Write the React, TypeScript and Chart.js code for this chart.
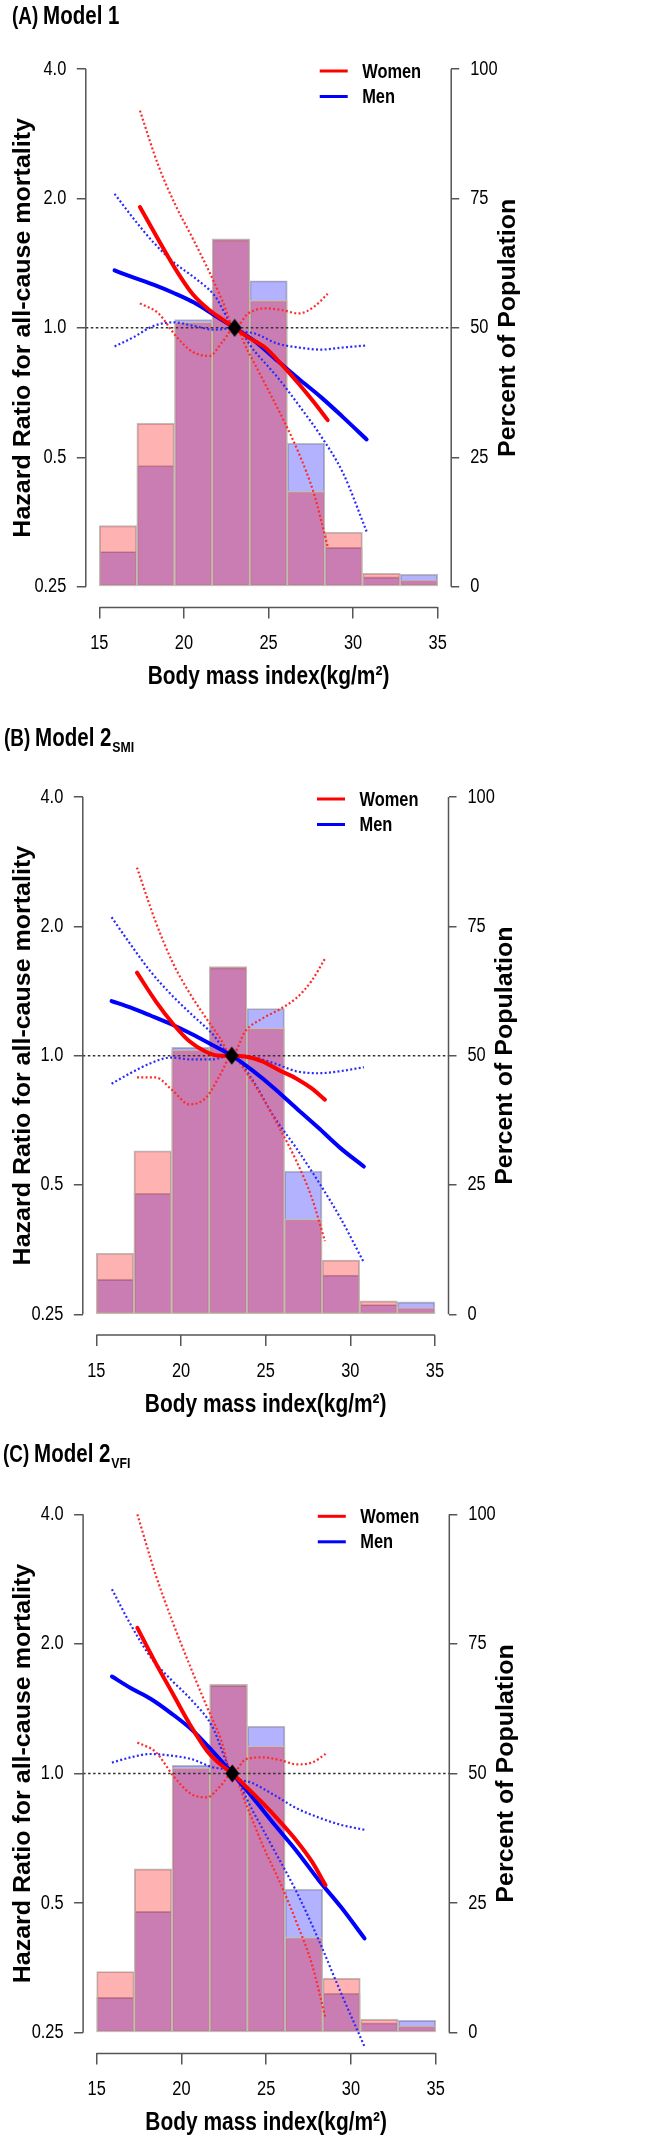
import React, { useEffect, useRef } from 'react';
import { Chart, registerables } from 'chart.js';

Chart.register(...registerables);

const FONT = "'Liberation Sans', Arial, sans-serif";
const SQUEEZE = 0.82;
const SQUEEZE_VERTICAL = 0.92;

// Histogram (percent of population per BMI bin, 9 bins from 15 to 35)
const binCenters = [16.11, 18.33, 20.56, 22.78, 25.0, 27.22, 29.44, 31.67, 33.89];
const menPercent = [6.8, 23.4, 51.6, 67.0, 59.1, 27.7, 7.6, 1.9, 2.4];
const womenPercent = [11.8, 31.6, 51.1, 67.2, 55.3, 18.4, 10.5, 2.6, 1.3];

// Axis ticks
const bmiTicks = [15, 20, 25, 30, 35];
const hrTicks = [0.25, 0.5, 1, 2, 4];
const hrTickLabels = ['0.25', '0.5', '1.0', '2.0', '4.0'];
const pctTicks = [0, 25, 50, 75, 100];
const X_MIN = 14.2;
const X_MAX = 35.8;
const HR_MIN = 0.22375;
const HR_MAX = 4.469;
const PCT_MIN = -4;
const PCT_MAX = 104;
const REF_HR = 1.0;
const REF_BMI = 23.0;

// Spline x grids
const womenBMI = [17.4, 18.5, 19.5, 20.5, 21.5, 22.3, 23.0, 23.8, 24.8, 25.8, 26.8, 27.7, 28.5];
const menBMI = [15.9, 17.0, 18.2, 19.4, 20.6, 21.8, 23.0, 24.2, 25.5, 26.8, 28.1, 29.4, 30.8];

// Panel A: Model 1
const aWomenHR = [1.91, 1.60, 1.37, 1.20, 1.10, 1.045, 1.0, 0.95, 0.90, 0.82, 0.74, 0.67, 0.61];
const aWomenLo = [1.14, 1.08, 0.96, 0.88, 0.86, 0.93, 1.0, 0.88, 0.74, 0.62, 0.51, 0.41, 0.31];
const aWomenHi = [3.2, 2.38, 1.93, 1.62, 1.35, 1.15, 1.0, 1.08, 1.11, 1.10, 1.08, 1.12, 1.2];
const aMenHR = [1.36, 1.31, 1.26, 1.205, 1.145, 1.07, 1.0, 0.93, 0.84, 0.76, 0.69, 0.62, 0.55];
const aMenLo = [0.905, 0.95, 1.01, 1.03, 1.01, 0.99, 1.0, 0.88, 0.77, 0.66, 0.56, 0.46, 0.336];
const aMenHi = [2.05, 1.80, 1.58, 1.42, 1.31, 1.19, 1.0, 0.97, 0.92, 0.90, 0.89, 0.90, 0.91];

// Panel B: Model 2 SMI
const bWomenHR = [1.56, 1.34, 1.19, 1.08, 1.02, 1.0, 1.0, 0.995, 0.97, 0.925, 0.885, 0.84, 0.79];
const bWomenLo = [0.89, 0.89, 0.83, 0.77, 0.80, 0.90, 1.0, 0.92, 0.80, 0.68, 0.57, 0.47, 0.37];
const bWomenHi = [2.74, 2.05, 1.65, 1.40, 1.22, 1.10, 1.0, 1.14, 1.22, 1.28, 1.36, 1.49, 1.68];
const bMenHR = [1.34, 1.295, 1.24, 1.185, 1.125, 1.062, 1.0, 0.925, 0.84, 0.755, 0.68, 0.61, 0.552];
const bMenLo = [0.86, 0.91, 0.96, 0.99, 0.98, 0.98, 1.0, 0.88, 0.72, 0.61, 0.51, 0.42, 0.33];
const bMenHi = [2.10, 1.82, 1.57, 1.39, 1.25, 1.13, 1.0, 0.99, 0.96, 0.92, 0.91, 0.92, 0.94];

// Panel C: Model 2 VFI
const cWomenHR = [2.18, 1.80, 1.53, 1.30, 1.13, 1.05, 1.0, 0.933, 0.853, 0.774, 0.697, 0.624, 0.55];
const cWomenLo = [1.18, 1.12, 0.99, 0.90, 0.88, 0.935, 1.0, 0.85, 0.68, 0.56, 0.45, 0.36, 0.27];
const cWomenHi = [4.0, 2.88, 2.24, 1.78, 1.43, 1.21, 1.0, 1.08, 1.09, 1.075, 1.05, 1.06, 1.11];
const cMenHR = [1.68, 1.58, 1.49, 1.38, 1.265, 1.13, 1.0, 0.88, 0.76, 0.66, 0.565, 0.49, 0.414];
const cMenLo = [1.06, 1.09, 1.11, 1.10, 1.08, 1.035, 1.0, 0.82, 0.66, 0.53, 0.41, 0.31, 0.232];
const cMenHi = [2.68, 2.22, 1.86, 1.65, 1.48, 1.29, 1.0, 0.95, 0.89, 0.83, 0.79, 0.76, 0.74];

type Series = { wHR: number[]; wLo: number[]; wHi: number[]; mHR: number[]; mLo: number[]; mHi: number[] };
type PanelCfg = {
  key: string;
  top: number;
  height: number;
  area: { top: number; bottom: number; left: number; right: number };
  xTitleY: number;
  series: Series;
  titleLeft: number;
  titleTop: number;
  letter: string;
  model: string;
  sub: string;
};

const panels: PanelCfg[] = [
  {
    key: 'A', top: 0, height: 710,
    area: { top: 48.3, bottom: 607.4, left: 85.8, right: 451.2 },
    xTitleY: 677,
    series: { wHR: aWomenHR, wLo: aWomenLo, wHi: aWomenHi, mHR: aMenHR, mLo: aMenLo, mHi: aMenHi },
    titleLeft: 12, titleTop: 0, letter: '(A)', model: 'Model 1', sub: '',
  },
  {
    key: 'B', top: 710, height: 720,
    area: { top: 66.3, bottom: 625, left: 82.8, right: 448.5 },
    xTitleY: 695,
    series: { wHR: bWomenHR, wLo: bWomenLo, wHi: bWomenHi, mHR: bMenHR, mLo: bMenLo, mHi: bMenHi },
    titleLeft: 3.5, titleTop: 722, letter: '(B)', model: 'Model 2', sub: 'SMI',
  },
  {
    key: 'C', top: 1430, height: 712,
    area: { top: 63.6, bottom: 623.4, left: 83.1, right: 449.3 },
    xTitleY: 693,
    series: { wHR: cWomenHR, wLo: cWomenLo, wHi: cWomenHi, mHR: cMenHR, mLo: cMenLo, mHi: cMenHi },
    titleLeft: 2.5, titleTop: 1438, letter: '(C)', model: 'Model 2', sub: 'VFI',
  },
];

const pts = (xs: number[], ys: number[]) => xs.map((x, i) => ({ x, y: ys[i] }));

const AXIS_COLOR = '#555';

function drawText(
  ctx: CanvasRenderingContext2D, text: string, x: number, y: number, font: string,
  align: CanvasTextAlign, rotate = false,
) {
  ctx.save();
  ctx.translate(x, y);
  ctx.scale(rotate ? SQUEEZE_VERTICAL : SQUEEZE, 1);
  if (rotate) ctx.rotate(-Math.PI / 2);
  ctx.font = font;
  ctx.textAlign = align;
  ctx.textBaseline = 'middle';
  ctx.fillStyle = '#000';
  ctx.fillText(text, 0, 0);
  ctx.restore();
}

function makeOverlay(cfg: PanelCfg) {
  return {
    id: 'overlay',
    afterDraw(chart: any) {
      const { ctx, chartArea, scales } = chart;
      const x = scales.x, y = scales.y, y1 = scales.y1;
      ctx.save();
      ctx.strokeStyle = AXIS_COLOR;
      ctx.lineWidth = 1.5;
      ctx.beginPath();
      ctx.moveTo(chartArea.left, y.getPixelForValue(hrTicks[hrTicks.length - 1]));
      ctx.lineTo(chartArea.left, y.getPixelForValue(hrTicks[0]));
      ctx.moveTo(chartArea.right, y1.getPixelForValue(pctTicks[pctTicks.length - 1]));
      ctx.lineTo(chartArea.right, y1.getPixelForValue(pctTicks[0]));
      ctx.moveTo(x.getPixelForValue(bmiTicks[0]), chartArea.bottom);
      ctx.lineTo(x.getPixelForValue(bmiTicks[bmiTicks.length - 1]), chartArea.bottom);
      ctx.stroke();
      ctx.restore();

      const tickFont = `20px ${FONT}`;
      x.ticks.forEach((t: any) => {
        drawText(ctx, String(t.label ?? t.value), x.getPixelForValue(t.value), chartArea.bottom + 36, tickFont, 'center');
      });
      y.ticks.forEach((t: any) => {
        drawText(ctx, String(t.label), chartArea.left - 19.5, y.getPixelForValue(t.value), tickFont, 'right');
      });
      y1.ticks.forEach((t: any) => {
        drawText(ctx, String(t.label), chartArea.right + 19, y1.getPixelForValue(t.value), tickFont, 'left');
      });

      // axis titles
      drawText(ctx, 'Body mass index(kg/m²)', (chartArea.left + chartArea.right) / 2, cfg.xTitleY, `bold 25.5px ${FONT}`, 'center');
      const midY = (chartArea.top + chartArea.bottom) / 2;
      drawText(ctx, 'Hazard Ratio for all-cause mortality', 23.5, midY, `bold 25px ${FONT}`, 'center', true);
      drawText(ctx, 'Percent of Population', chartArea.right + 57, midY, `bold 25px ${FONT}`, 'center', true);

      // legend
      const lx1 = chartArea.right - 131.5;
      const lx2 = chartArea.right - 103.5;
      const tx = chartArea.right - 89;
      const rows = [
        { label: 'Women', color: '#ff0000', dy: 22.7 },
        { label: 'Men', color: '#0000ff', dy: 48.2 },
      ];
      rows.forEach((r) => {
        const yy = chartArea.top + r.dy;
        ctx.save();
        ctx.strokeStyle = r.color;
        ctx.lineWidth = 3;
        ctx.beginPath();
        ctx.moveTo(lx1, yy);
        ctx.lineTo(lx2, yy);
        ctx.stroke();
        ctx.restore();
        drawText(ctx, r.label, tx, yy + 1, `bold 20px ${FONT}`, 'left');
      });
    },
  };
}

function makeDiamond() {
  const c = document.createElement('canvas');
  c.width = 15;
  c.height = 19;
  const g = c.getContext('2d');
  if (g) {
    g.fillStyle = '#000';
    g.beginPath();
    g.moveTo(7.5, 0.5);
    g.lineTo(14.5, 9.5);
    g.lineTo(7.5, 18.5);
    g.lineTo(0.5, 9.5);
    g.closePath();
    g.fill();
  }
  return c;
}

function Panel({ cfg }: { cfg: PanelCfg }) {
  const ref = useRef<HTMLCanvasElement>(null);
  useEffect(() => {
    const canvas = ref.current;
    if (!canvas) return;
    const H = cfg.height;
    const A = cfg.area;
    const s = cfg.series;
    const solid = (color: string) => ({
      type: 'line' as const,
      borderColor: color,
      borderWidth: 4,
      pointRadius: 0,
      fill: false,
      cubicInterpolationMode: 'monotone' as const,
      yAxisID: 'y',
      borderCapStyle: 'round' as const,
    });
    const dotted = (color: string) => ({
      type: 'line' as const,
      borderColor: color,
      borderWidth: 2.2,
      borderDash: [2, 2.3],
      pointRadius: 0,
      fill: false,
      cubicInterpolationMode: 'monotone' as const,
      yAxisID: 'y',
    });
    const hiddenTicks = { display: false, autoSkip: false };
    const chart = new Chart(canvas, {
      type: 'line',
      data: {
        datasets: [
          { ...solid('#ff0000'), label: 'Women', data: pts(womenBMI, s.wHR), order: 1 },
          { ...solid('#0000ff'), label: 'Men', data: pts(menBMI, s.mHR), order: 2 },
          { ...dotted('#ff2a2a'), label: 'Women upper', data: pts(womenBMI, s.wHi), order: 3 },
          { ...dotted('#ff2a2a'), label: 'Women lower', data: pts(womenBMI, s.wLo), order: 4 },
          { ...dotted('#2a2aff'), label: 'Men upper', data: pts(menBMI, s.mHi), order: 5 },
          { ...dotted('#2a2aff'), label: 'Men lower', data: pts(menBMI, s.mLo), order: 6 },
          {
            type: 'line', label: 'Reference', data: [{ x: X_MIN, y: REF_HR }, { x: X_MAX, y: REF_HR }],
            borderColor: '#333', borderWidth: 1.5, borderDash: [2.5, 2.5], pointRadius: 0, yAxisID: 'y', order: 7,
          },
          {
            type: 'line', label: 'Reference point', data: [{ x: REF_BMI, y: REF_HR }], showLine: false,
            pointStyle: makeDiamond(), pointRadius: 8, yAxisID: 'y', order: 0,
          },
          {
            type: 'bar', label: 'Men %', data: pts(binCenters, menPercent), yAxisID: 'y1',
            backgroundColor: 'rgba(0,0,255,0.3)', borderColor: '#bdbdbd', borderWidth: 1.2,
            borderSkipped: false, grouped: false, barPercentage: 1, categoryPercentage: 1, order: 20,
          } as any,
          {
            type: 'bar', label: 'Women %', data: pts(binCenters, womenPercent), yAxisID: 'y1',
            backgroundColor: 'rgba(255,0,0,0.3)', borderColor: '#bdbdbd', borderWidth: 1.2,
            borderSkipped: false, grouped: false, barPercentage: 1, categoryPercentage: 1, order: 19,
          } as any,
        ],
      },
      options: {
        responsive: false,
        animation: false,
        devicePixelRatio: 1,
        layout: { padding: { top: A.top, left: 0, right: 0, bottom: 0 } },
        plugins: { legend: { display: false }, tooltip: { enabled: false }, title: { display: false } },
        scales: {
          x: {
            type: 'linear', position: 'bottom', min: X_MIN, max: X_MAX, offset: false,
            afterBuildTicks: (sc: any) => { sc.ticks = bmiTicks.map((v) => ({ value: v })); },
            afterFit: (sc: any) => { sc.height = H - A.bottom; },
            grid: { display: true, drawOnChartArea: false, drawTicks: true, tickLength: 11, color: AXIS_COLOR, lineWidth: 1.5, offset: false },
            border: { display: false },
            ticks: { ...hiddenTicks, callback: (v: any) => String(v) },
            title: { display: false },
          },
          y: {
            type: 'logarithmic', position: 'left', min: HR_MIN, max: HR_MAX,
            afterBuildTicks: (sc: any) => { sc.ticks = hrTicks.map((v) => ({ value: v })); },
            afterFit: (sc: any) => { sc.width = A.left; },
            grid: { display: true, drawOnChartArea: false, drawTicks: true, tickLength: 9, color: AXIS_COLOR, lineWidth: 1.5 },
            border: { display: false },
            ticks: {
              ...hiddenTicks,
              callback: (v: any) => {
                const i = hrTicks.indexOf(Number(v));
                return i >= 0 ? hrTickLabels[i] : '';
              },
            },
            title: { display: false },
          },
          y1: {
            type: 'linear', position: 'right', min: PCT_MIN, max: PCT_MAX,
            afterBuildTicks: (sc: any) => { sc.ticks = pctTicks.map((v) => ({ value: v })); },
            afterFit: (sc: any) => { sc.width = 661 - A.right; },
            grid: { display: true, drawOnChartArea: false, drawTicks: true, tickLength: 8, color: AXIS_COLOR, lineWidth: 1.5 },
            border: { display: false },
            ticks: { ...hiddenTicks, callback: (v: any) => String(v) },
          },
        },
      } as any,
      plugins: [makeOverlay(cfg)],
    } as any);
    return () => chart.destroy();
  }, []);
  return (
    <canvas
      ref={ref}
      width={661}
      height={cfg.height}
      style={{ position: 'absolute', left: 0, top: cfg.top, width: 661, height: cfg.height }}
    />
  );
}

function PanelTitle({ cfg }: { cfg: PanelCfg }) {
  return (
    <div
      style={{
        position: 'absolute', left: cfg.titleLeft, top: cfg.titleTop, height: 30, lineHeight: '30px',
        fontFamily: FONT, fontWeight: 700, fontSize: 25, color: '#000', whiteSpace: 'nowrap', zIndex: 2,
        transform: `scaleX(${SQUEEZE})`, transformOrigin: 'left center',
      }}
    >
      <span style={{ fontSize: 23 }}>{cfg.letter}</span>
      <span style={{ marginLeft: 6 }}>{cfg.model}</span>
      {cfg.sub ? (
        <span style={{ fontSize: 15, position: 'relative', top: 6, marginLeft: 1 }}>{cfg.sub}</span>
      ) : null}
    </div>
  );
}

export default function App() {
  return (
    <div style={{ position: 'absolute', left: 0, top: 0, width: 661, height: 2142, background: '#fff', overflow: 'hidden' }}>
      {panels.map((p) => (
        <Panel key={p.key} cfg={p} />
      ))}
      {panels.map((p) => (
        <PanelTitle key={'t' + p.key} cfg={p} />
      ))}
    </div>
  );
}
